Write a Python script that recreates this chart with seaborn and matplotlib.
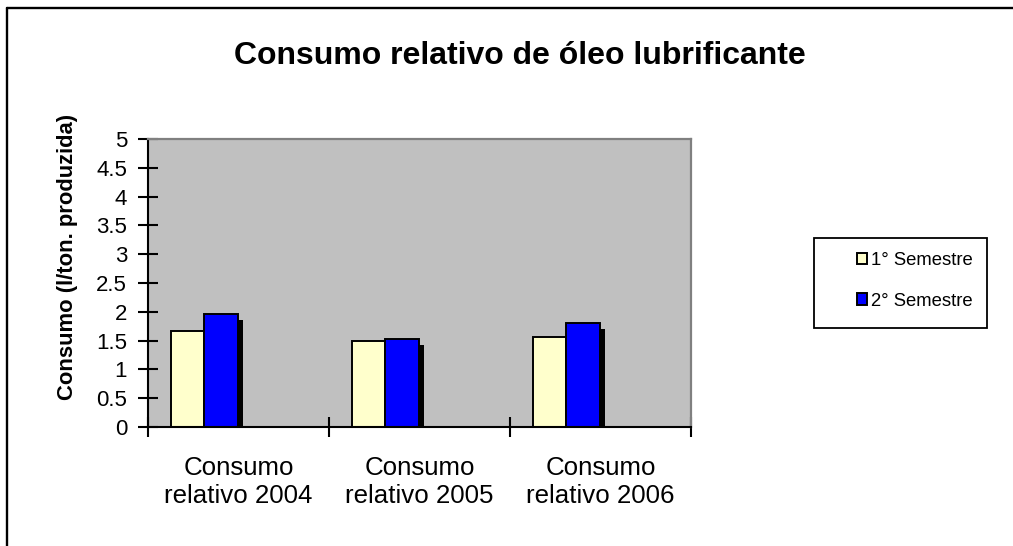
import numpy as np
import pandas as pd
import matplotlib
matplotlib.use("Agg")
import matplotlib.pyplot as plt
import matplotlib.patheffects as pe
from matplotlib.patches import Patch, Rectangle
from matplotlib.lines import Line2D
import seaborn as sns

# data
periodos = ["Consumo\nrelativo 2004", "Consumo\nrelativo 2005", "Consumo\nrelativo 2006"]
semestres = ["1° Semestre", "2° Semestre"]
sem1 = [1.67, 1.49, 1.57]
sem2 = [1.96, 1.52, 1.81]
y_ticks = [0, 0.5, 1, 1.5, 2, 2.5, 3, 3.5, 4, 4.5, 5]
cores = ["#FFFFCC", "#0000FF"]

df = pd.DataFrame({
    "periodo": periodos * 2,
    "semestre": [semestres[0]] * 3 + [semestres[1]] * 3,
    "consumo": sem1 + sem2,
})

sns.set_style("white")
plt.rcParams["font.family"] = ["Liberation Sans", "DejaVu Sans"]
plt.rcParams["text.color"] = "black"
plt.rcParams["axes.labelcolor"] = "black"
plt.rcParams["xtick.color"] = "black"
plt.rcParams["ytick.color"] = "black"

W, H = 1013, 546
fig = plt.figure(figsize=(W / 100, H / 100), dpi=100)
ax = fig.add_axes([148 / W, 1 - 427 / H, (691 - 148) / W, (427 - 139) / H])

sns.barplot(data=df, x="periodo", y="consumo", hue="semestre",
            hue_order=semestres, palette=cores, edgecolor="black",
            linewidth=1.4, saturation=1, ax=ax, legend=False, errorbar=None)

# Excel places the pair left of the category centre
largura = 0.185
desloc = [-0.282, -0.098]
sombra = [pe.SimplePatchShadow(offset=(3.6, -4.3), shadow_rgbFace="black", alpha=1.0),
          pe.Normal()]
for i, cont in enumerate(ax.containers):
    for j, bar in enumerate(cont):
        bar.set_width(largura)
        bar.set_x(j + desloc[i] - largura / 2)
        bar.set_path_effects(sombra)

ax.set_facecolor("#C0C0C0")
ax.set_xlim(-0.5, 2.5)
ax.set_ylim(0, 5)
ax.set_yticks(y_ticks)
ax.set_yticklabels([f"{v:g}" for v in y_ticks], fontsize=16)
ax.set_xticks([-0.5, 0.5, 1.5, 2.5], minor=False)
ax.set_xticklabels([])
ax.set_xticks([0, 1, 2], minor=True)
ax.set_xticklabels(periodos, minor=True, fontsize=18.6, linespacing=1.2)
ax.tick_params(axis="x", which="minor", bottom=False, length=0, pad=21)
ax.tick_params(axis="x", which="major", bottom=True, direction="inout",
               length=14, width=1.5, color="black")
ax.tick_params(axis="y", left=True, direction="inout", length=14, width=1.5,
               color="black", pad=8)
ax.set_xlabel("")
ax.set_ylabel("Consumo (l/ton. produzida)", fontsize=15.8, fontweight="bold")
ax.yaxis.set_label_coords(-0.128, 0.59)

for lado in ["left", "bottom"]:
    ax.spines[lado].set_color("black")
    ax.spines[lado].set_linewidth(1.5)
for lado in ["top", "right"]:
    ax.spines[lado].set_color("#808080")
    ax.spines[lado].set_linewidth(1.6)

fig.text(520 / W, 1 - 64 / H, "Consumo relativo de óleo lubrificante",
         fontsize=23, fontweight="bold", ha="center", va="baseline")

# legend box
fig.patches.append(Rectangle((814 / W, 1 - 328 / H), (987 - 814) / W, (328 - 238) / H,
                             transform=fig.transFigure, facecolor="white",
                             edgecolor="black", linewidth=1.3, zorder=1))
handles = [Patch(facecolor=c, edgecolor="black", linewidth=1.4) for c in cores]
leg = fig.legend(handles, semestres, loc="center left",
                 bbox_to_anchor=(848 / W, 1 - 281 / H), frameon=False,
                 fontsize=13.3, handlelength=0.55, handleheight=0.55,
                 handletextpad=0.2, labelspacing=1.25, borderpad=0)

# outer chart border (cut at right and bottom)
fig.add_artist(Line2D([7 / W, 7 / W], [0, 1 - 8 / H], transform=fig.transFigure,
                      color="black", linewidth=1.7))
fig.add_artist(Line2D([7 / W, 1], [1 - 8 / H, 1 - 8 / H], transform=fig.transFigure,
                      color="black", linewidth=1.7))

fig.savefig("out.png", dpi=100)
